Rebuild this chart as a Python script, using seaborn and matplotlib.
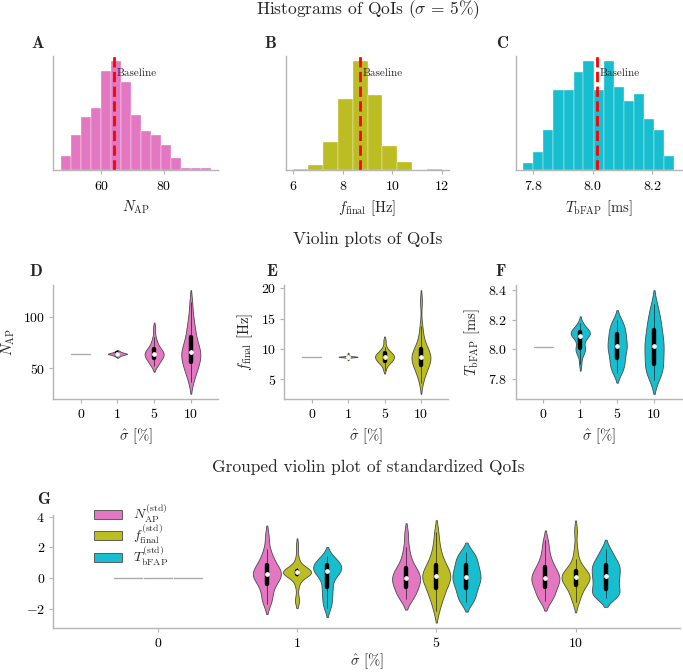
import numpy as np
import pandas as pd
import matplotlib
matplotlib.use("Agg")
import matplotlib.pyplot as plt
from matplotlib.ticker import MaxNLocator, MultipleLocator
import seaborn as sns

# ---------------- data ----------------
sigma_levels = ["0", "1", "5", "10"]
color_NAP = "#e377c2"
color_ffinal = "#bcbd22"
color_TbFAP = "#17becf"

baseline_NAP = 64.0
baseline_ffinal = 8.69
baseline_TbFAP = 8.013

# histograms (sigma = 5 %): bin edges and counts
hist_NAP_edges = [46.9, 50.1, 53.3, 56.5, 59.8, 63.0, 66.2, 69.4, 72.6, 75.8, 79.0, 82.3, 85.5, 88.7, 91.9, 95.1]
hist_NAP_counts = [6, 15, 23, 27, 43, 47, 38, 24, 17, 15, 11, 5, 1, 1, 1]
hist_ffinal_edges = [6.0, 6.6, 7.2, 7.8, 8.4, 9.0, 9.6, 10.2, 10.8, 11.4, 12.0]
hist_ffinal_counts = [1, 5, 28, 71, 109, 75, 24, 8, 0, 1]
hist_TbFAP_edges = [7.767, 7.801, 7.834, 7.868, 7.902, 7.936, 7.969, 8.003, 8.037, 8.071, 8.104, 8.138, 8.172, 8.206, 8.239, 8.273]
hist_TbFAP_counts = [2, 5, 11, 22, 22, 27, 30, 22, 30, 23, 19, 21, 14, 11, 4]

# violin samples per noise level (approximate quantiles)
NAP_s0 = [64, 64, 64, 64, 64]
NAP_s1 = [61, 62, 62, 63, 63, 63, 63, 64, 64, 64, 64, 64, 64, 64, 65, 65, 65, 65, 66, 66, 67]
NAP_s5 = [52, 54, 56, 57, 59, 60, 61, 62, 63, 63, 64, 65, 66, 67, 68, 69, 71, 73, 76, 80, 89]
NAP_s10 = [37, 44, 47, 50, 54, 56, 58, 60, 62, 64, 66, 68, 70, 72, 75, 80, 84, 88, 94, 101, 114]

ffinal_s0 = [8.69, 8.69, 8.69, 8.69, 8.69]
ffinal_s1 = [8.25, 8.45, 8.6, 8.65, 8.7, 8.7, 8.7, 8.7, 8.7, 8.7, 8.7, 8.7, 8.7, 8.7, 8.7, 8.7, 8.75, 8.8, 8.9, 9.0, 9.25]
ffinal_s5 = [6.6, 7.3, 7.6, 7.8, 8.0, 8.0, 8.2, 8.4, 8.5, 8.6, 8.7, 8.8, 8.9, 9.0, 9.2, 9.3, 9.4, 9.6, 9.9, 10.4, 11.4]
ffinal_s10 = [4.4, 5.6, 6.2, 6.7, 7.0, 7.4, 7.7, 8.0, 8.3, 8.5, 8.7, 8.9, 9.1, 9.4, 9.7, 10.0, 10.5, 11.2, 12.2, 13.8, 17.9]

TbFAP_s0 = [8.013, 8.013, 8.013, 8.013, 8.013]
TbFAP_s1 = [7.90, 7.96, 7.98, 8.0, 8.0, 8.01, 8.03, 8.06, 8.08, 8.09, 8.09, 8.10, 8.11, 8.11, 8.12, 8.12, 8.12, 8.13, 8.14, 8.16, 8.18]
TbFAP_s5 = [7.84, 7.86, 7.88, 7.9, 7.92, 7.94, 7.96, 7.98, 8.0, 8.01, 8.02, 8.04, 8.05, 8.07, 8.09, 8.105, 8.12, 8.14, 8.16, 8.18, 8.20]
TbFAP_s10 = [7.79, 7.82, 7.85, 7.87, 7.89, 7.9, 7.93, 7.96, 7.98, 8.0, 8.02, 8.04, 8.06, 8.08, 8.11, 8.134, 8.16, 8.19, 8.22, 8.26, 8.31]

# standardized QoIs
stdN_s0 = [0, 0, 0, 0, 0]
stdN_s1 = [-1.7, -1.4, -1.2, -0.8, -0.5, -0.4, -0.2, 0.0, 0.1, 0.2, 0.22, 0.3, 0.4, 0.5, 0.7, 0.81, 1.0, 1.2, 1.5, 1.9, 2.75]
stdN_s5 = [-1.4, -1.3, -1.1, -0.9, -0.75, -0.62, -0.45, -0.3, -0.2, -0.1, -0.02, 0.1, 0.2, 0.35, 0.5, 0.63, 0.8, 1.1, 1.5, 2.0, 2.9]
stdN_s10 = [-1.5, -1.35, -1.15, -0.95, -0.8, -0.62, -0.45, -0.3, -0.2, -0.1, 0.0, 0.1, 0.2, 0.35, 0.5, 0.68, 0.85, 1.1, 1.45, 1.9, 2.45]

stdf_s0 = [0, 0, 0, 0, 0]
stdf_s1 = [-1.5, -1.45, -0.6, -0.2, 0.1, 0.25, 0.3, 0.35, 0.37, 0.37, 0.37, 0.37, 0.37, 0.37, 0.4, 0.45, 0.5, 0.65, 0.9, 1.3, 2.1]
stdf_s5 = [-2.15, -1.6, -1.3, -1.0, -0.8, -0.68, -0.4, -0.2, -0.05, 0.05, 0.09, 0.15, 0.3, 0.45, 0.65, 0.85, 1.0, 1.3, 1.7, 2.2, 3.0]
stdf_s10 = [-1.6, -1.3, -1.0, -0.75, -0.6, -0.46, -0.3, -0.2, -0.1, -0.03, 0.04, 0.1, 0.17, 0.25, 0.35, 0.46, 0.6, 0.85, 1.2, 1.9, 3.1]

stdT_s0 = [0, 0, 0, 0, 0]
stdT_s1 = [-1.95, -1.7, -1.4, -1.1, -0.8, -0.62, -0.3, 0.0, 0.2, 0.35, 0.46, 0.5, 0.55, 0.6, 0.7, 0.84, 0.9, 1.0, 1.1, 1.25, 1.4]
stdT_s5 = [-1.6, -1.45, -1.25, -1.0, -0.8, -0.64, -0.45, -0.3, -0.15, -0.05, 0.07, 0.2, 0.35, 0.5, 0.65, 0.81, 1.0, 1.15, 1.35, 1.55, 1.7]
stdT_s10 = [-1.3, -1.2, -1.1, -1.0, -0.9, -0.74, -0.55, -0.35, -0.2, -0.05, 0.09, 0.25, 0.4, 0.55, 0.7, 0.81, 0.95, 1.1, 1.3, 1.6, 1.9]

label_NAP = r"$N_{\rm AP}$"
label_ffinal = r"$f_{\rm final}$ [Hz]"
label_TbFAP = r"$T_{\rm bFAP}$ [ms]"
label_sigma = r"$\hat{\sigma}$ [%]"
std_labels = [r"$N_{\rm AP}^{\rm (std)}$", r"$f_{\rm final}^{\rm (std)}$", r"$T_{\rm bFAP}^{\rm (std)}$"]

# ---------------- style ----------------
sns.set_style("ticks")
plt.rcParams.update({
    "font.family": "cmr10",
    "mathtext.fontset": "cm",
    "axes.formatter.use_mathtext": True,
    "axes.edgecolor": "#b5b5b5",
    "axes.linewidth": 1.0,
    "xtick.color": "#b5b5b5",
    "ytick.color": "#b5b5b5",
    "xtick.labelcolor": "black",
    "ytick.labelcolor": "black",
    "xtick.labelsize": 10,
    "ytick.labelsize": 10,
    "axes.labelsize": 10.5,
    "xtick.major.size": 3,
    "ytick.major.size": 3,
    "xtick.major.pad": 4,
    "ytick.major.pad": 3,
})

W, H = 683, 672
fig = plt.figure(figsize=(W / 100, H / 100), dpi=100)

INNER = dict(box_width=3.2, whis_width=0.4, marker="o", color="black")
EDGE = "#4a4a4a"
BW = 0.75
CUT = 1.5


def ax_at(l, t, r, b):
    return fig.add_axes([l / W, 1 - b / H, (r - l) / W, (b - t) / H])


def panel_label(x, y, s):
    fig.text(x / W, 1 - y / H, r"$\mathbf{%s}$" % s, fontsize=12, ha="left", va="center")


def nice_locator():
    return MaxNLocator(nbins=4, steps=[1, 2, 2.5, 5, 10])


def lighten_singular(ax):
    for ln in ax.lines:
        x, y = ln.get_xdata(), ln.get_ydata()
        if len(y) == 2 and np.allclose(y[0], y[1]) and not np.allclose(x[0], x[1]):
            ln.set_color("#aaaaaa")
            ln.set_linewidth(1.0)


# ---------------- row 1: histograms ----------------
hist_specs = [
    ((53.3, 56, 218, 170), hist_NAP_edges, hist_NAP_counts, color_NAP, baseline_NAP, label_NAP, "A", 31),
    ((285.7, 56, 449.3, 170), hist_ffinal_edges, hist_ffinal_counts, color_ffinal, baseline_ffinal, label_ffinal, "B", 264),
    ((515.7, 56, 681.7, 170), hist_TbFAP_edges, hist_TbFAP_counts, color_TbFAP, baseline_TbFAP, label_TbFAP, "C", 496),
]
for box, edges, counts, col, base, xlab, letter, lx in hist_specs:
    ax = ax_at(*box)
    centers = [(a + b) / 2 for a, b in zip(edges[:-1], edges[1:])]
    sns.histplot(x=centers, weights=counts, bins=edges, color=col, alpha=1.0,
                 edgecolor="white", linewidth=0.25, ax=ax)
    ax.axvline(base, color="red", ls="--", lw=2)
    ax.annotate("Baseline", xy=(base, 0.85), xycoords=("data", "axes fraction"),
                xytext=(2, 0), textcoords="offset points", va="center", ha="left", fontsize=8)
    ax.set_yticks([])
    ax.set_ylabel("")
    ax.set_xlabel(xlab)
    ax.xaxis.set_major_locator(nice_locator())
    sns.despine(ax=ax)
    panel_label(lx, 43, letter)

fig.text(368 / W, 1 - 10 / H, r"Histograms of QoIs ($\sigma$ = 5%)", ha="center", va="center", fontsize=12.5)

# ---------------- row 2: violins ----------------
def long_df(groups):
    rows = []
    for s, vals in zip(sigma_levels, groups):
        rows += [(s, v) for v in vals]
    return pd.DataFrame(rows, columns=["sigma", "value"])

violin_specs = [
    ((53.3, 285, 218.3, 399), [NAP_s0, NAP_s1, NAP_s5, NAP_s10], color_NAP, label_NAP, "D", 29),
    ((284.3, 285, 448.3, 399), [ffinal_s0, ffinal_s1, ffinal_s5, ffinal_s10], color_ffinal, label_ffinal, "E", 266),
    ((515.7, 285, 681.7, 399), [TbFAP_s0, TbFAP_s1, TbFAP_s5, TbFAP_s10], color_TbFAP, label_TbFAP, "F", 495),
]
for box, groups, col, ylab, letter, lx in violin_specs:
    ax = ax_at(*box)
    df = long_df(groups)
    sns.violinplot(data=df, x="sigma", y="value", order=sigma_levels, color=col, saturation=1,
                   inner="box", inner_kws=INNER, cut=CUT, bw_adjust=BW, density_norm="width", width=0.52,
                   linewidth=0.6, linecolor=EDGE, ax=ax)
    lighten_singular(ax)
    ax.set_xlim(-0.75, 3.75)
    ax.set_ylabel(ylab)
    ax.set_xlabel(label_sigma)
    ax.yaxis.set_major_locator(nice_locator())
    sns.despine(ax=ax)
    panel_label(lx, 271, letter)

fig.text(368 / W, 1 - 239 / H, "Violin plots of QoIs", ha="center", va="center", fontsize=12.5)

# ---------------- row 3: grouped violins ----------------
rows = []
for lab, groups in zip(std_labels, [[stdN_s0, stdN_s1, stdN_s5, stdN_s10],
                                    [stdf_s0, stdf_s1, stdf_s5, stdf_s10],
                                    [stdT_s0, stdT_s1, stdT_s5, stdT_s10]]):
    for s, vals in zip(sigma_levels, groups):
        rows += [(s, lab, v) for v in vals]
dfG = pd.DataFrame(rows, columns=["sigma", "qoi", "value"])

axG = ax_at(53.3, 515, 680, 627.7)
sns.violinplot(data=dfG, x="sigma", y="value", hue="qoi", order=sigma_levels, hue_order=std_labels,
               palette=[color_NAP, color_ffinal, color_TbFAP], saturation=1, inner="box",
               inner_kws=INNER, cut=CUT, bw_adjust=BW, density_norm="width", width=0.65, gap=0.07,
               linewidth=0.6, linecolor=EDGE, ax=axG)
lighten_singular(axG)
axG.set_xlim(-0.75, 3.75)
axG.set_xlabel(label_sigma, labelpad=1)
axG.set_ylabel("")
axG.yaxis.set_major_locator(MultipleLocator(2))
sns.despine(ax=axG)
sns.move_legend(axG, "upper left", bbox_to_anchor=(0.045, 1.225), frameon=False, title=None,
                fontsize=10, labelspacing=-0.12, handleheight=0.6)
panel_label(37, 499, "G")
fig.text(368 / W, 1 - 467 / H, "Grouped violin plot of standardized QoIs", ha="center", va="center", fontsize=12.5)

fig.savefig("out.png", dpi=100)
